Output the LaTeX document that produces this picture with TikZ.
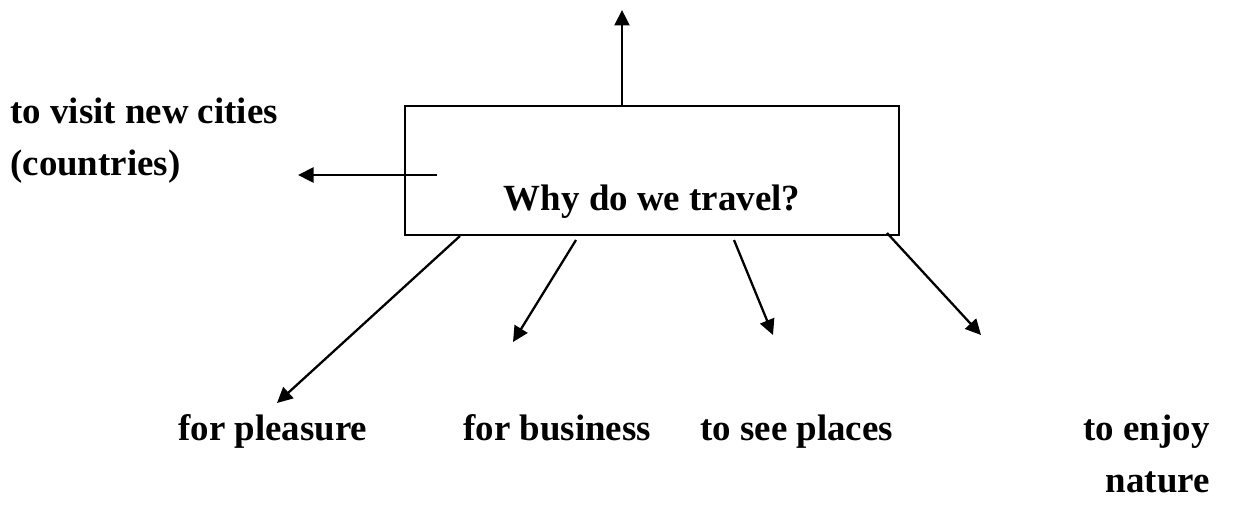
\documentclass[tikz,border=0pt]{standalone}
\usepackage{fontspec}
\setmainfont{Liberation Serif}
\usetikzlibrary{arrows.meta, positioning, calc}

\tikzset{
  lbl/.style={font=\bfseries\fontsize{21}{25}\selectfont, inner sep=0pt, anchor=base west},
  arr/.style={line width=1.3pt, -{Triangle[length=0.31cm, width=0.3cm]}}
}

\begin{document}
\begin{tikzpicture}[x=0.02cm, y=-0.02cm]
  \useasboundingbox (0,0) rectangle (1243,504);

  % Central box
  \node[draw, line width=1.1pt, minimum width=9.88cm, minimum height=2.58cm, inner sep=0pt] (box) at (652,170.5) {};
  \node[lbl, anchor=base] (why) at (652,210) {Why do we travel?};

  % Reasons
  \node[lbl] (cities) at (10,123) {to visit new cities};
  \node[lbl] (countries) at (10,175) {(countries)};
  \node[lbl] (pleasure) at (178,440) {for pleasure};
  \node[lbl] (business) at (463,440) {for business};
  \node[lbl] (places) at (700,440) {to see places};
  \node[lbl, anchor=base east] (enjoy) at (1210,440) {to enjoy};
  \node[lbl, anchor=base east] (nature) at (1210,492) {nature};

  % Arrow start and end points
  \coordinate (upStart) at (622,106);
  \coordinate (upEnd) at (622,10);
  \coordinate (leftStart) at (437,175);
  \coordinate (leftEnd) at (298,175);
  \coordinate (pleaStart) at (460,236);
  \coordinate (pleaEnd) at (277,403);
  \coordinate (busiStart) at (576,240);
  \coordinate (busiEnd) at (513,342);
  \coordinate (placStart) at (734,240);
  \coordinate (placEnd) at (773,335);
  \coordinate (natuStart) at (887,233);
  \coordinate (natuEnd) at (981,335);

  % Arrows
  \draw[arr] (upStart) -- (upEnd);
  \draw[arr] (leftStart) -- (leftEnd);
  \draw[arr] (pleaStart) -- (pleaEnd);
  \draw[arr] (busiStart) -- (busiEnd);
  \draw[arr] (placStart) -- (placEnd);
  \draw[arr] (natuStart) -- (natuEnd);
\end{tikzpicture}
\end{document}
